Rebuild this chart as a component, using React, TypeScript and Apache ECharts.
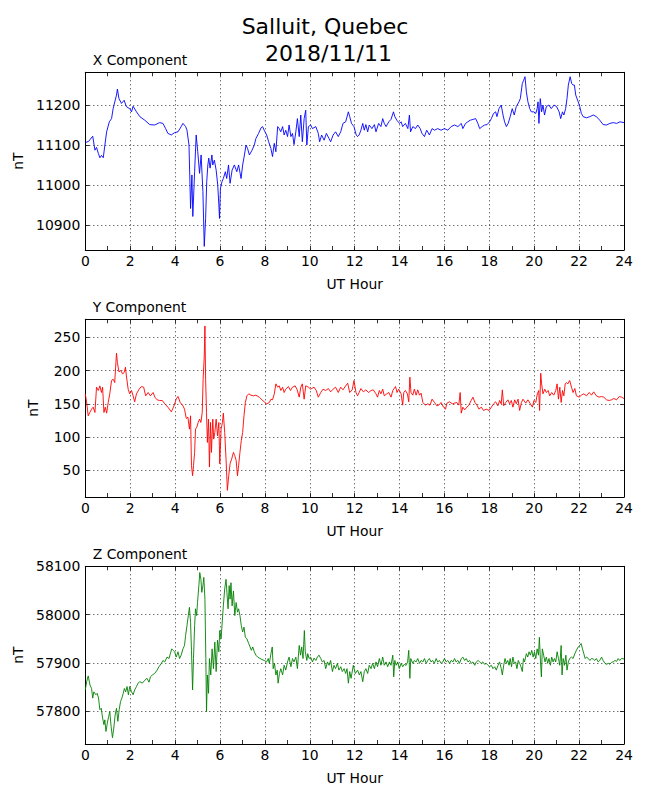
import React, { useEffect, useRef } from "react";
import * as echarts from "echarts";

// ---------- data (hour, nT) ----------
const xComponent: [number, number][] = [
[0,11107],[0.15,11110],[0.33,11123],[0.43,11088],[0.5,11095],[0.58,11080],[0.65,11069],[0.72,11075],[0.8,11069],[0.95,11134],[1.07,11159],[1.17,11167],[1.24,11192],[1.39,11226],[1.43,11241],[1.5,11217],[1.61,11205],[1.73,11213],[1.83,11197],[1.98,11192],[2.06,11184],[2.13,11198],[2.28,11184],[2.43,11172],[2.65,11163],[2.87,11152],[3.09,11151],[3.31,11157],[3.46,11155],[3.58,11142],[3.68,11130],[3.83,11126],[3.98,11132],[4.13,11134],[4.27,11147],[4.35,11155],[4.47,11147],[4.53,11138],[4.62,11101],[4.69,10942],[4.75,11026],[4.79,10922],[4.87,11034],[4.94,11126],[5.01,11084],[5.09,11030],[5.16,11076],[5.24,10984],[5.3,10847],[5.36,10917],[5.41,11009],[5.46,11051],[5.5,11068],[5.56,11043],[5.64,11076],[5.68,11051],[5.75,11063],[5.83,11038],[5.9,11001],[5.95,10951],[5.98,10917],[6.02,10992],[6.09,11009],[6.15,11017],[6.24,11034],[6.3,11017],[6.38,11051],[6.45,11005],[6.54,11038],[6.64,11051],[6.75,11034],[6.83,11051],[6.94,11017],[7.01,11051],[7.09,11076],[7.16,11101],[7.23,11092],[7.31,11076],[7.43,11088],[7.53,11101],[7.6,11117],[7.72,11130],[7.83,11144],[7.9,11147],[7.97,11138],[8.08,11126],[8.17,11109],[8.27,11092],[8.34,11072],[8.42,11105],[8.49,11084],[8.57,11147],[8.64,11142],[8.71,11134],[8.79,11147],[8.86,11126],[8.93,11138],[9.01,11122],[9.08,11151],[9.16,11122],[9.23,11130],[9.3,11102],[9.38,11134],[9.45,11167],[9.53,11122],[9.6,11176],[9.67,11109],[9.75,11167],[9.82,11188],[9.87,11101],[9.94,11147],[10.04,11151],[10.12,11142],[10.27,11147],[10.38,11130],[10.44,11109],[10.53,11126],[10.64,11113],[10.74,11130],[10.86,11117],[10.93,11109],[11.04,11126],[11.15,11134],[11.27,11122],[11.38,11134],[11.48,11155],[11.6,11159],[11.72,11184],[11.78,11172],[11.86,11155],[11.97,11147],[12.07,11126],[12.13,11122],[12.2,11126],[12.28,11138],[12.36,11155],[12.43,11138],[12.5,11152],[12.58,11134],[12.65,11151],[12.77,11142],[12.88,11152],[12.95,11134],[13.07,11155],[13.17,11147],[13.25,11167],[13.32,11155],[13.4,11147],[13.52,11159],[13.62,11165],[13.73,11184],[13.79,11172],[13.88,11163],[14.0,11155],[14.07,11159],[14.14,11147],[14.26,11155],[14.37,11142],[14.44,11176],[14.49,11134],[14.59,11147],[14.71,11142],[14.81,11151],[14.92,11142],[15.0,11130],[15.11,11122],[15.21,11138],[15.33,11126],[15.45,11142],[15.56,11138],[15.7,11142],[15.85,11138],[16.0,11142],[16.15,11138],[16.3,11147],[16.45,11151],[16.6,11147],[16.75,11155],[16.82,11142],[16.94,11155],[17.04,11159],[17.15,11163],[17.27,11165],[17.39,11167],[17.49,11155],[17.57,11142],[17.68,11147],[17.79,11151],[17.9,11152],[18.01,11159],[18.09,11167],[18.19,11180],[18.28,11184],[18.34,11172],[18.43,11192],[18.53,11201],[18.61,11176],[18.68,11159],[18.76,11147],[18.84,11155],[18.93,11172],[19.02,11192],[19.11,11176],[19.2,11197],[19.32,11209],[19.38,11217],[19.47,11255],[19.53,11263],[19.59,11272],[19.65,11234],[19.72,11209],[19.8,11192],[19.87,11184],[19.98,11184],[20.07,11180],[20.13,11192],[20.17,11209],[20.21,11155],[20.27,11217],[20.33,11184],[20.39,11201],[20.46,11176],[20.54,11197],[20.65,11201],[20.76,11192],[20.88,11201],[21.0,11197],[21.11,11184],[21.18,11167],[21.26,11184],[21.32,11176],[21.4,11192],[21.46,11217],[21.52,11251],[21.6,11272],[21.67,11255],[21.73,11251],[21.79,11251],[21.85,11226],[21.96,11209],[22.03,11197],[22.1,11180],[22.18,11172],[22.33,11169],[22.48,11172],[22.63,11176],[22.77,11172],[22.92,11163],[23.07,11152],[23.22,11151],[23.37,11155],[23.52,11157],[23.67,11155],[23.82,11159],[24,11157]
];

const yComponent: [number, number][] = [
[0,165],[0.06,152],[0.13,132],[0.2,137],[0.28,142],[0.35,145],[0.43,137],[0.5,175],[0.58,170],[0.65,177],[0.72,167],[0.77,175],[0.83,137],[0.89,145],[0.95,136],[1.02,152],[1.09,165],[1.17,185],[1.24,187],[1.31,182],[1.39,226],[1.43,212],[1.5,198],[1.58,200],[1.66,195],[1.73,197],[1.79,205],[1.83,192],[1.91,172],[1.98,165],[2.06,170],[2.13,162],[2.2,153],[2.28,165],[2.4,172],[2.5,176],[2.6,175],[2.69,162],[2.8,167],[2.9,162],[3.02,167],[3.1,160],[3.2,156],[3.31,155],[3.43,155],[3.54,150],[3.68,145],[3.83,138],[3.93,145],[4.05,157],[4.13,161],[4.23,152],[4.35,147],[4.42,142],[4.5,128],[4.57,130],[4.64,112],[4.69,132],[4.73,57],[4.78,42],[4.82,57],[4.87,77],[4.91,112],[4.97,115],[5.03,122],[5.09,127],[5.15,122],[5.21,137],[5.25,187],[5.3,222],[5.33,267],[5.36,187],[5.4,137],[5.44,92],[5.49,127],[5.53,55],[5.58,122],[5.62,77],[5.68,127],[5.72,97],[5.77,107],[5.83,127],[5.89,102],[5.95,122],[5.99,60],[6.05,112],[6.11,122],[6.15,136],[6.21,107],[6.27,67],[6.33,20],[6.39,42],[6.45,60],[6.52,67],[6.6,77],[6.66,72],[6.72,65],[6.78,42],[6.83,57],[6.89,77],[6.95,95],[7.01,107],[7.07,132],[7.13,152],[7.2,162],[7.28,165],[7.38,163],[7.49,162],[7.6,163],[7.75,160],[7.87,156],[7.97,153],[8.08,150],[8.2,152],[8.27,157],[8.34,156],[8.42,165],[8.49,180],[8.57,175],[8.64,177],[8.71,170],[8.79,175],[8.86,167],[8.93,172],[9.05,176],[9.14,170],[9.23,175],[9.35,177],[9.44,171],[9.53,160],[9.6,175],[9.67,180],[9.75,157],[9.82,177],[9.94,175],[10.04,172],[10.19,175],[10.29,170],[10.38,160],[10.49,167],[10.59,172],[10.71,170],[10.83,173],[10.93,168],[11.04,172],[11.15,175],[11.27,167],[11.38,175],[11.48,171],[11.6,177],[11.69,181],[11.78,167],[11.89,171],[11.97,185],[12.06,167],[12.13,162],[12.2,167],[12.28,173],[12.39,168],[12.5,171],[12.62,167],[12.73,170],[12.83,171],[12.95,165],[13.02,160],[13.1,170],[13.17,165],[13.25,172],[13.32,162],[13.43,165],[13.52,167],[13.62,160],[13.7,170],[13.82,176],[13.89,167],[13.96,172],[14.07,165],[14.14,148],[14.19,167],[14.26,170],[14.35,165],[14.41,153],[14.46,190],[14.51,167],[14.59,163],[14.66,172],[14.74,163],[14.81,171],[14.89,163],[14.96,166],[15.04,152],[15.15,148],[15.26,150],[15.36,148],[15.45,157],[15.56,152],[15.66,147],[15.75,148],[15.85,152],[15.96,145],[16.05,142],[16.11,151],[16.23,153],[16.35,150],[16.45,151],[16.55,152],[16.64,148],[16.7,167],[16.75,136],[16.82,145],[16.9,141],[17.0,145],[17.09,148],[17.19,155],[17.27,160],[17.36,152],[17.45,148],[17.54,142],[17.64,145],[17.74,140],[17.86,142],[17.99,140],[18.09,145],[18.19,150],[18.28,153],[18.38,147],[18.46,155],[18.53,150],[18.58,171],[18.64,147],[18.73,152],[18.83,156],[18.9,150],[18.98,155],[19.05,145],[19.13,156],[19.2,150],[19.28,157],[19.35,140],[19.43,152],[19.5,157],[19.62,151],[19.72,156],[19.83,150],[19.92,145],[19.99,155],[20.07,152],[20.14,165],[20.2,170],[20.24,140],[20.29,196],[20.33,180],[20.39,165],[20.47,172],[20.54,167],[20.62,170],[20.69,162],[20.78,167],[20.87,163],[20.96,170],[21.02,180],[21.08,157],[21.14,175],[21.2,152],[21.26,170],[21.32,162],[21.38,180],[21.43,182],[21.5,180],[21.58,185],[21.66,175],[21.73,167],[21.81,173],[21.88,162],[22.0,160],[22.1,163],[22.21,165],[22.33,162],[22.45,167],[22.55,163],[22.65,168],[22.77,162],[22.89,160],[23.0,161],[23.1,160],[23.22,156],[23.34,155],[23.44,156],[23.55,158],[23.67,156],[23.79,161],[23.89,160],[24,158]
];

const zComponent: [number, number][] = [
[0,57844],[0.06,57861],[0.13,57873],[0.21,57854],[0.28,57847],[0.33,57827],[0.38,57840],[0.47,57834],[0.53,57837],[0.59,57827],[0.65,57803],[0.71,57806],[0.77,57786],[0.83,57772],[0.87,57782],[0.92,57758],[0.98,57775],[1.04,57789],[1.09,57799],[1.15,57768],[1.21,57745],[1.27,57765],[1.33,57792],[1.39,57806],[1.45,57779],[1.51,57803],[1.57,57820],[1.63,57827],[1.69,57837],[1.74,57847],[1.8,57840],[1.86,57851],[1.92,57834],[1.98,57851],[2.06,57840],[2.13,57834],[2.2,57844],[2.28,57851],[2.35,57858],[2.43,57861],[2.54,57858],[2.65,57864],[2.75,57868],[2.84,57860],[2.9,57871],[2.99,57875],[3.09,57878],[3.2,57885],[3.28,57892],[3.39,57899],[3.46,57905],[3.54,57902],[3.64,57912],[3.73,57909],[3.79,57919],[3.85,57929],[3.91,57926],[3.98,57923],[4.05,57912],[4.13,57923],[4.2,57909],[4.27,57916],[4.35,57929],[4.42,57936],[4.47,57957],[4.53,57977],[4.59,57998],[4.64,58015],[4.69,57984],[4.73,57926],[4.78,57844],[4.82,57909],[4.87,57977],[4.91,58012],[4.96,57998],[5.0,58025],[5.06,58060],[5.1,58087],[5.15,58073],[5.19,58046],[5.24,58060],[5.28,58077],[5.33,58032],[5.37,57909],[5.4,57799],[5.44,57875],[5.49,57837],[5.53,57909],[5.59,57875],[5.65,57929],[5.71,57888],[5.77,57943],[5.83,57882],[5.89,57947],[5.95,57923],[5.99,57967],[6.05,57950],[6.11,57991],[6.15,58018],[6.21,58053],[6.27,58073],[6.31,58046],[6.36,58012],[6.41,58060],[6.45,58032],[6.49,58066],[6.54,58018],[6.6,58049],[6.66,57998],[6.72,58025],[6.78,58005],[6.83,58012],[6.89,57998],[6.95,57977],[7.01,57964],[7.07,57974],[7.13,57953],[7.2,57950],[7.28,57940],[7.34,57933],[7.4,57926],[7.46,57933],[7.53,57923],[7.6,57916],[7.68,57912],[7.75,57910],[7.87,57907],[7.97,57905],[8.08,57902],[8.15,57909],[8.2,57899],[8.27,57919],[8.33,57933],[8.37,57888],[8.43,57899],[8.49,57875],[8.55,57885],[8.59,57858],[8.65,57878],[8.71,57888],[8.79,57875],[8.86,57895],[8.93,57885],[9.01,57902],[9.08,57912],[9.16,57892],[9.23,57909],[9.3,57902],[9.38,57912],[9.45,57888],[9.53,57936],[9.59,57916],[9.64,57933],[9.7,57909],[9.76,57967],[9.8,57923],[9.87,57905],[9.91,57919],[9.97,57909],[10.04,57912],[10.12,57902],[10.19,57910],[10.27,57905],[10.34,57912],[10.41,57916],[10.49,57909],[10.56,57902],[10.64,57905],[10.71,57888],[10.79,57902],[10.86,57895],[10.93,57905],[11.01,57882],[11.08,57895],[11.15,57888],[11.23,57899],[11.3,57885],[11.38,57892],[11.45,57882],[11.53,57888],[11.6,57878],[11.66,57888],[11.72,57858],[11.78,57882],[11.84,57868],[11.94,57895],[12.03,57878],[12.13,57885],[12.21,57875],[12.28,57882],[12.36,57861],[12.43,57882],[12.5,57888],[12.58,57878],[12.65,57895],[12.73,57888],[12.8,57899],[12.88,57888],[12.95,57902],[13.02,57892],[13.1,57909],[13.17,57895],[13.25,57912],[13.32,57895],[13.4,57902],[13.47,57892],[13.55,57902],[13.62,57895],[13.7,57916],[13.74,57871],[13.79,57905],[13.85,57895],[13.92,57902],[13.99,57888],[14.07,57899],[14.14,57892],[14.21,57897],[14.29,57895],[14.36,57902],[14.41,57926],[14.46,57868],[14.5,57909],[14.59,57899],[14.66,57905],[14.74,57902],[14.81,57909],[14.89,57899],[14.96,57905],[15.04,57902],[15.11,57909],[15.19,57899],[15.26,57905],[15.33,57909],[15.4,57902],[15.48,57905],[15.55,57899],[15.63,57909],[15.7,57902],[15.78,57905],[15.85,57899],[15.93,57902],[16.0,57909],[16.08,57902],[16.15,57905],[16.23,57899],[16.3,57905],[16.38,57902],[16.45,57909],[16.52,57902],[16.6,57905],[16.67,57899],[16.75,57909],[16.82,57912],[16.9,57905],[16.97,57909],[17.05,57902],[17.12,57905],[17.2,57899],[17.27,57902],[17.35,57895],[17.42,57902],[17.5,57905],[17.57,57902],[17.64,57899],[17.71,57902],[17.79,57897],[17.86,57899],[17.94,57895],[18.01,57892],[18.09,57895],[18.16,57888],[18.24,57892],[18.31,57885],[18.39,57895],[18.46,57902],[18.53,57888],[18.58,57875],[18.64,57895],[18.7,57909],[18.76,57899],[18.82,57905],[18.88,57895],[18.93,57909],[18.99,57892],[19.05,57912],[19.11,57899],[19.17,57902],[19.23,57888],[19.29,57905],[19.35,57899],[19.41,57892],[19.47,57882],[19.52,57909],[19.57,57902],[19.65,57919],[19.71,57912],[19.77,57923],[19.83,57916],[19.89,57926],[19.95,57912],[20.01,57923],[20.07,57909],[20.13,57929],[20.19,57916],[20.23,57953],[20.28,57902],[20.32,57871],[20.36,57929],[20.42,57916],[20.48,57902],[20.54,57912],[20.6,57899],[20.66,57909],[20.72,57895],[20.78,57912],[20.84,57902],[20.9,57909],[20.96,57902],[21.02,57923],[21.08,57909],[21.14,57895],[21.2,57936],[21.24,57875],[21.29,57909],[21.35,57895],[21.41,57916],[21.46,57885],[21.52,57902],[21.58,57909],[21.66,57912],[21.73,57909],[21.81,57919],[21.88,57926],[21.96,57933],[22.03,57936],[22.09,57940],[22.15,57929],[22.21,57919],[22.27,57909],[22.33,57912],[22.41,57909],[22.48,57905],[22.55,57909],[22.63,57908],[22.7,57905],[22.77,57909],[22.85,57902],[22.92,57905],[23.0,57912],[23.07,57905],[23.15,57899],[23.22,57897],[23.3,57899],[23.37,57897],[23.44,57901],[23.52,57902],[23.6,57905],[23.67,57903],[23.74,57909],[23.81,57905],[23.89,57909],[24,57908]
];

const panelTitles = ["X Component", "Y Component", "Z Component"];
const panelSeries = [xComponent, yComponent, zComponent];
const panelColors = ["#0000ff", "#ff0000", "#008000"];
const yMins = [10838, 10, 57732];
const yMaxs = [11283, 277, 58100];
const yIntervals = [100, 50, 100];
const titleLines = ["Salluit, Quebec", "2018/11/11"];
const xAxisName = "UT Hour";
const yAxisName = "nT";

// ---------- layout ----------
const FONT = '"DejaVu Sans", sans-serif';
const GRID_LEFT = 85.3;
const GRID_W = 538.7;
const GRID_H = 177.7;
const GRID_TOPS = [72.3, 319.3, 566.3];

function buildOption() {
  const black = "#000";
  const grid = GRID_TOPS.map((t) => ({ left: GRID_LEFT, top: t, width: GRID_W, height: GRID_H, containLabel: false }));
  const axisLine = { show: true, onZero: false, lineStyle: { color: black, width: 1 } };
  const tick = { show: true, inside: true, length: 4, lineStyle: { color: black, width: 0.8 } };
  const split = { show: true, lineStyle: { color: black, width: 0.8, type: [1, 3] as number[] } };
  const plain = (v: number) => String(v);
  const xAxis: any[] = [];
  const yAxis: any[] = [];
  GRID_TOPS.forEach((_, i) => {
    const xCommon = {
      type: "value", gridIndex: i, min: 0, max: 24, interval: 2,
      axisLine, axisTick: tick,
      minorTick: { show: true, splitNumber: 2, length: 4, lineStyle: { color: black, width: 0.8 } },
      minorSplitLine: { show: false },
    };
    xAxis.push({
      ...xCommon, position: "bottom",
      axisLabel: { show: true, color: black, fontSize: 13.9, fontFamily: FONT, margin: 4, formatter: plain },
      splitLine: split,
      name: xAxisName, nameLocation: "middle", nameGap: 27,
      nameTextStyle: { color: black, fontSize: 13.9, fontFamily: FONT },
    });
    xAxis.push({ ...xCommon, position: "top", axisLabel: { show: false }, splitLine: { show: false } });
    const yCommon = {
      type: "value", gridIndex: i, min: yMins[i], max: yMaxs[i],
      minInterval: yIntervals[i], maxInterval: yIntervals[i], splitNumber: 4,
      axisLine, axisTick: tick,
    };
    yAxis.push({
      ...yCommon, position: "left",
      axisLabel: { show: true, color: black, fontSize: 13.9, fontFamily: FONT, margin: 5, showMinLabel: false, showMaxLabel: i === 2, formatter: plain },
      splitLine: split,
      name: yAxisName, nameLocation: "middle", nameGap: 45,
      nameTextStyle: { color: black, fontSize: 13.9, fontFamily: FONT },
    });
    yAxis.push({ ...yCommon, position: "right", axisLabel: { show: false }, splitLine: { show: false } });
  });
  const series = panelSeries.map((d, i) => ({
    type: "line", xAxisIndex: 2 * i, yAxisIndex: 2 * i, data: d,
    showSymbol: false, symbol: "none", clip: true,
    lineStyle: { color: panelColors[i], width: 0.9 }, itemStyle: { color: panelColors[i] },
  }));
  const graphic: any[] = [
    { type: "text", x: 325, y: 26, style: { text: titleLines[0], font: `22px ${FONT}`, fill: black, align: "center", verticalAlign: "middle" } },
    { type: "text", x: 328.5, y: 53, style: { text: titleLines[1], font: `22px ${FONT}`, fill: black, align: "center", verticalAlign: "middle" } },
  ];
  GRID_TOPS.forEach((t, i) => {
    graphic.push({ type: "text", x: 92.7, y: t - 12.1, style: { text: panelTitles[i], font: `13.9px ${FONT}`, fill: black, align: "left", verticalAlign: "middle" } });
  });
  return { animation: false, backgroundColor: "#fff", grid, xAxis, yAxis, series, graphic };
}

export default function App() {
  const ref = useRef<HTMLDivElement>(null);
  useEffect(() => {
    if (!ref.current) return;
    const chart = echarts.init(ref.current, null, { renderer: "svg" });
    chart.setOption(buildOption() as any);
    return () => chart.dispose();
  }, []);
  return <div ref={ref} style={{ position: "fixed", left: 0, top: 0, width: 650, height: 800, background: "#fff" }} />;
}
